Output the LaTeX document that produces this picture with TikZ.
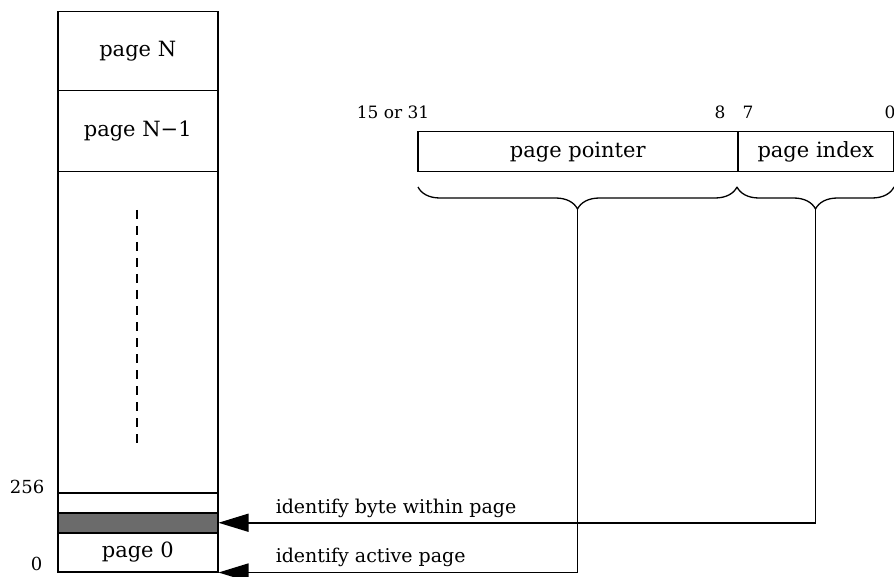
\documentclass[tikz,border=0pt]{standalone}
\usepackage{fontspec}
\setmainfont{DejaVu Serif}
\usetikzlibrary{arrows.meta,decorations.pathreplacing}

\begin{document}
\begin{tikzpicture}[x=1pt,y=-1pt,line width=1.5pt,
  cell/.style={draw,rectangle,minimum width=160pt,inner sep=0pt,anchor=north west,
    font=\fontsize{21}{24}\selectfont},
  regbox/.style={draw,rectangle,minimum height=40pt,inner sep=0pt,anchor=north west,
    font=\fontsize{21}{24}\selectfont},
  bitlbl/.style={anchor=base,inner sep=0pt,font=\fontsize{17}{20}\selectfont},
  addrlbl/.style={anchor=base east,inner sep=0pt,font=\fontsize{18}{21}\selectfont},
  note/.style={anchor=base west,inner sep=0pt,font=\fontsize{19}{22}\selectfont},
  bracket/.style={line width=1.3pt,decorate,decoration={brace,amplitude=22pt,mirror}},
  pointer/.style={-{Triangle[length=30pt,width=18pt]}}]

\useasboundingbox[fill=white] (0,0) rectangle (894,577);

% memory column, one cell per page
\node[cell,minimum height=79pt]  (pN)   at (57,11)  {page N};
\node[cell,minimum height=81pt]  (pN1)  at (57,90)  {page N\char"2212 1};
\node[cell,minimum height=321pt] (mid)  at (57,171) {};
\node[cell,minimum height=20pt]  (gap)  at (57,492) {};
\node[cell,minimum height=20pt,fill=black!58] (byte) at (57,512) {};
\node[cell,minimum height=39pt]  (p0)   at (57,532) {page 0};

\draw[line width=1.6pt,dash pattern=on 9pt off 7pt] (137,210) -- (137,446);

\node[addrlbl] (a256) at (45,493) {256};
\node[addrlbl] (a0)   at (43,570) {0};

% address register
\node[regbox,minimum width=320pt] (ptr) at (417,131) {page pointer};
\node[regbox,minimum width=156pt] (idx) at (737,131) {page index};

\node[bitlbl] (b15) at (393,119) {15 or 31};
\node[bitlbl] (b8)  at (720,119) {8};
\node[bitlbl] (b7)  at (748,119) {7};
\node[bitlbl] (b0)  at (890,119) {0};

% braces below the register fields
\coordinate (br1) at (418,187);
\coordinate (br2) at (737,187);
\coordinate (br3) at (894,187);
\draw[bracket] (br1) -- (br2);
\draw[bracket] (br2) -- (br3);
\coordinate (ptip) at (577.5,209);
\coordinate (itip) at (815.5,209);

% field routing to memory
\draw[pointer] (itip) |- (byte.east);
\draw[pointer] (ptip) |- (p0.south east);

\node[note] (nbyte) at (275,513) {identify byte within page};
\node[note] (npage) at (275,562) {identify active page};
\end{tikzpicture}
\end{document}
